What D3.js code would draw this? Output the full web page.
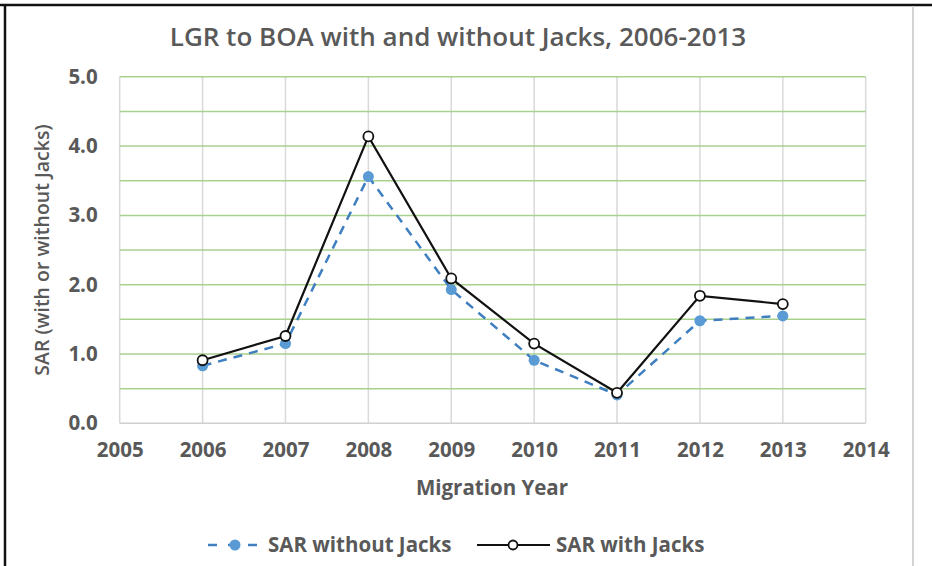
<!DOCTYPE html>
<html><head><meta charset="utf-8">
<script src="https://cdn.jsdelivr.net/npm/d3@7"></script>
<style>
html,body{margin:0;padding:0;background:#fff;}
svg{display:block;}
text{font-family:"Open Sans","Noto Sans",sans-serif;fill:#595959;}
</style></head><body>
<svg id="c" width="932" height="566"></svg>
<script>
const years = [2006, 2007, 2008, 2009, 2010, 2011, 2012, 2013];
const withoutJacks = [0.83, 1.15, 3.56, 1.93, 0.91, 0.41, 1.48, 1.55];
const withJacks = [0.91, 1.26, 4.14, 2.09, 1.15, 0.44, 1.84, 1.72];
const xTicks = [2005, 2006, 2007, 2008, 2009, 2010, 2011, 2012, 2013, 2014];
const yTicks = [0, 1, 2, 3, 4, 5];
const yGrid = [0.5, 1, 1.5, 2, 2.5, 3, 3.5, 4, 4.5, 5];
const seriesNames = ["SAR without Jacks", "SAR with Jacks"];
const title = "LGR to BOA with and without Jacks, 2006-2013";
const xTitle = "Migration Year";
const yTitle = "SAR (with or without Jacks)";

const svg = d3.select("#c");
const x = d3.scaleLinear().domain([2005, 2014]).range([119.7, 865.7]);
const y = d3.scaleLinear().domain([0, 5]).range([423.3, 76.8]);

// frame
svg.append("line").attr("x1",0).attr("x2",932).attr("y1",5).attr("y2",5).attr("stroke","#111").attr("stroke-width",2.5);
svg.append("line").attr("x1",5).attr("x2",5).attr("y1",5).attr("y2",566).attr("stroke","#111").attr("stroke-width",2.5);
svg.append("line").attr("x1",913).attr("x2",913).attr("y1",6).attr("y2",566).attr("stroke","#d4d4d4").attr("stroke-width",2);

// vertical gridlines
svg.append("g").selectAll("line").data(xTicks).join("line")
  .attr("x1",d=>x(d)).attr("x2",d=>x(d)).attr("y1",y(5)).attr("y2",y(0))
  .attr("stroke","#d9d9d9").attr("stroke-width",1.5);
// horizontal gridlines
svg.append("g").selectAll("line").data(yGrid).join("line")
  .attr("x1",x(2005)).attr("x2",x(2014)).attr("y1",d=>y(d)).attr("y2",d=>y(d))
  .attr("stroke","#a9d18e").attr("stroke-width",1.5);
// bottom axis line
svg.append("line").attr("x1",x(2005)).attr("x2",x(2014)).attr("y1",y(0)).attr("y2",y(0))
  .attr("stroke","#d0d0d0").attr("stroke-width",1.5);

const fs = 20.5;
const yAxis = svg.append("g").attr("transform",`translate(${x(2005)},0)`)
  .call(d3.axisLeft(y).tickValues(yTicks).tickFormat(d3.format(".1f")).tickSize(0).tickPadding(22));
yAxis.select(".domain").remove();
yAxis.selectAll("text").attr("font-size",fs).attr("font-weight",700).attr("fill","#595959").attr("font-family",null);

const xAxis = svg.append("g").attr("transform",`translate(0,${y(0)})`)
  .call(d3.axisBottom(x).tickValues(xTicks).tickFormat(d3.format("d")).tickSize(0).tickPadding(19));
xAxis.select(".domain").remove();
xAxis.selectAll("text").attr("font-size",fs).attr("font-weight",700).attr("fill","#595959").attr("font-family",null);

// titles
svg.append("text").attr("x",458).attr("y",46).attr("text-anchor","middle")
  .attr("font-size",26).attr("font-weight",600).text(title);
svg.append("text").attr("x",492).attr("y",495).attr("text-anchor","middle")
  .attr("font-size",fs).attr("font-weight",700).text(xTitle);
svg.append("text").attr("transform",`translate(49,${(y(0)+y(5))/2}) rotate(-90)`).attr("text-anchor","middle")
  .attr("font-size",19.5).attr("font-weight",600).text(yTitle);

// lines
const line = d3.line().x((d,i)=>x(years[i])).y(d=>y(d));
svg.append("path").datum(withoutJacks).attr("d",line).attr("fill","none")
  .attr("stroke","#3f7fc0").attr("stroke-width",2.5).attr("stroke-dasharray","9,7");
svg.append("g").selectAll("circle").data(withoutJacks).join("circle")
  .attr("cx",(d,i)=>x(years[i])).attr("cy",d=>y(d)).attr("r",5.5).attr("fill","#5b9bd5");
svg.append("path").datum(withJacks).attr("d",line).attr("fill","none")
  .attr("stroke","#111").attr("stroke-width",2.2);
svg.append("g").selectAll("circle").data(withJacks).join("circle")
  .attr("cx",(d,i)=>x(years[i])).attr("cy",d=>y(d)).attr("r",5).attr("fill","#fff")
  .attr("stroke","#111").attr("stroke-width",1.8);

// legend
const ly = 545;
const lg = svg.append("g");
lg.append("line").attr("x1",208).attr("x2",262).attr("y1",ly).attr("y2",ly)
  .attr("stroke","#3f7fc0").attr("stroke-width",2.5).attr("stroke-dasharray","9,11");
lg.append("circle").attr("cx",235).attr("cy",ly).attr("r",5.5).attr("fill","#5b9bd5");
lg.append("text").attr("x",268).attr("y",ly+7).attr("font-size",fs).attr("font-weight",700).text(seriesNames[0]);
lg.append("line").attr("x1",477).attr("x2",550).attr("y1",ly).attr("y2",ly).attr("stroke","#111").attr("stroke-width",2.2);
lg.append("circle").attr("cx",513).attr("cy",ly).attr("r",4.5).attr("fill","#fff").attr("stroke","#111").attr("stroke-width",1.8);
lg.append("text").attr("x",556).attr("y",ly+7).attr("font-size",fs).attr("font-weight",700).text(seriesNames[1]);
</script>
</body></html>
